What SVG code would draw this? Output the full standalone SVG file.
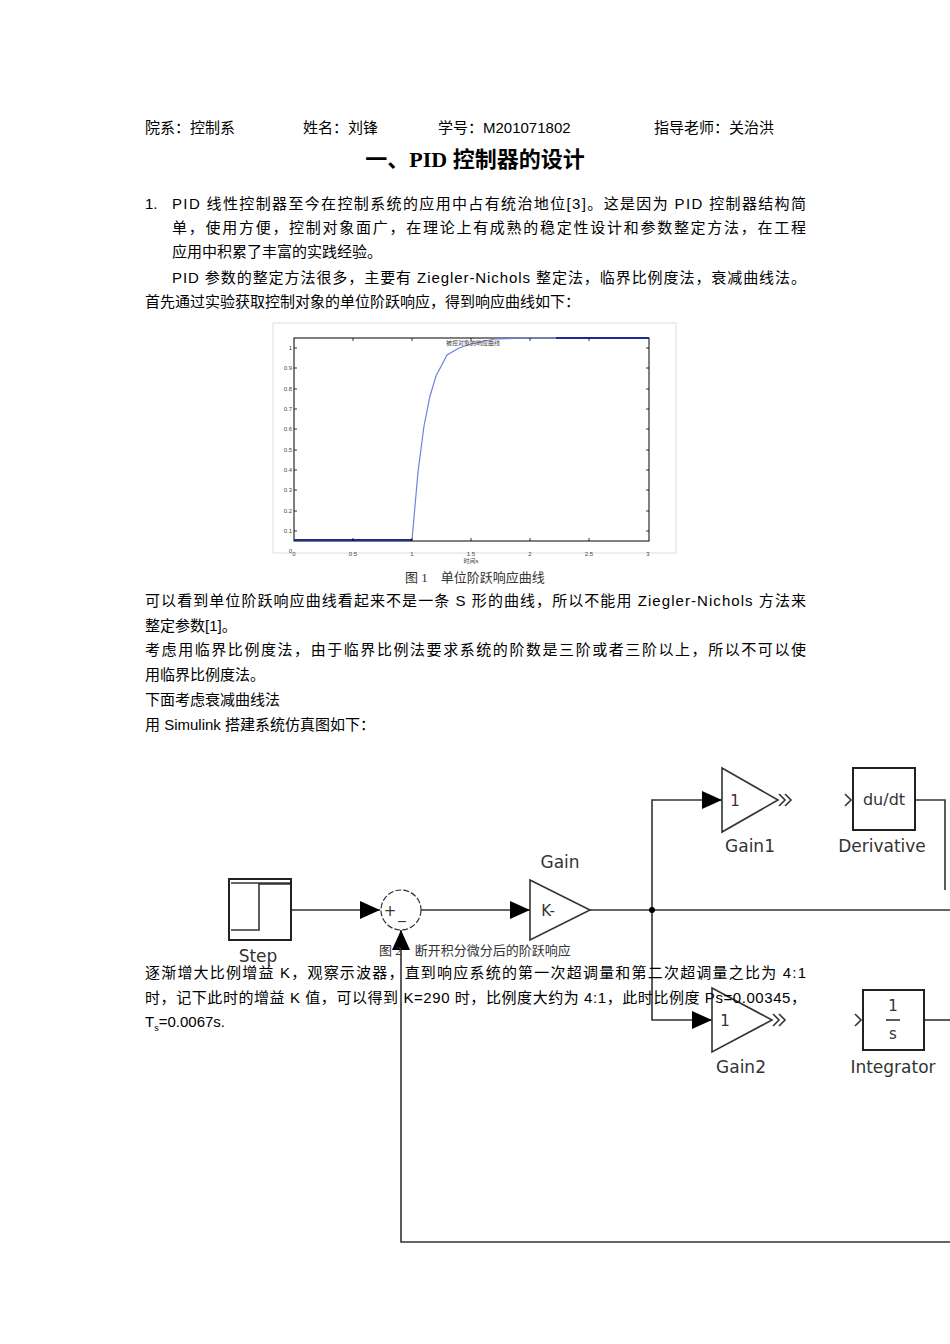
<svg xmlns="http://www.w3.org/2000/svg" width="950" height="1344" viewBox="0 0 950 1344">
<defs>
<style>
.t{font-family:"Liberation Sans","Noto Sans CJK SC",sans-serif;font-size:15px;fill:#000}
.s{font-family:"Liberation Sans","Noto Sans CJK SC",sans-serif;font-size:6px;fill:#444}
.c{font-family:"Liberation Serif","Noto Sans CJK SC",serif;font-size:13px;fill:#333}
.b{font-family:"DejaVu Sans",sans-serif;font-size:17px;fill:#333}
.w{stroke:#222;stroke-width:2;fill:none}
.l{stroke:#333;stroke-width:1.6;fill:none}
</style>
<marker id="a" markerWidth="10" markerHeight="10" refX="9" refY="5" orient="auto" markerUnits="userSpaceOnUse"><path d="M0,0L10,5L0,10z" fill="#000"/></marker>
<marker id="ar" markerWidth="20" markerHeight="18" refX="20" refY="9" orient="auto" markerUnits="userSpaceOnUse"><path d="M0,0L20,9L0,18z" fill="#000"/></marker>
</defs>
<rect width="950" height="1344" fill="#fff"/>
<g id="header">
<text class="t" x="145" y="133">院系：控制系</text>
<text class="t" x="303" y="133">姓名：刘锋</text>
<text class="t" x="438" y="133">学号：M201071802</text>
<text class="t" x="654" y="133">指导老师：关治洪</text>
<text x="475" y="167" text-anchor="middle" style="font-family:'Liberation Serif','Noto Sans CJK SC',serif;font-size:22px;font-weight:bold">一、PID 控制器的设计</text>
</g>
<g id="para1">
<text class="t" x="145" y="209">1.</text>
<text class="t" x="172" y="209" textLength="634">PID 线性控制器至今在控制系统的应用中占有统治地位[3]。这是因为 PID 控制器结构简</text>
<text class="t" x="172" y="233" textLength="634">单，使用方便，控制对象面广，在理论上有成熟的稳定性设计和参数整定方法，在工程</text>
<text class="t" x="172" y="257">应用中积累了丰富的实践经验。</text>
<text class="t" x="172" y="283" textLength="634">PID 参数的整定方法很多，主要有 Ziegler-Nichols 整定法，临界比例度法，衰减曲线法。</text>
<text class="t" x="145" y="307">首先通过实验获取控制对象的单位阶跃响应，得到响应曲线如下：</text>
</g>
<g id="plot">
<rect x="273" y="323" width="403" height="230" fill="#fff" stroke="#ddd"/>
<rect x="294" y="338" width="355" height="203" fill="#fff" stroke="#000" stroke-width="1"/>
<path d="M294,540H412L418,472L424,426L430,396L436,376L447,355L459,348L471,344L495,339L530,338H649" fill="none" stroke="#7080e0" stroke-width="1.2"/>
<path d="M294,540H412M556,338H649" fill="none" stroke="#1a2a90" stroke-width="2"/>
<g stroke="#000" stroke-width="0.8">
<path d="M353,541v-3M412,541v-3M471,541v-3M530,541v-3M589,541v-3M353,338v3M412,338v3M471,338v3M530,338v3M589,338v3"/>
<path d="M294,531h3M294,511h3M294,490h3M294,470h3M294,450h3M294,429h3M294,409h3M294,389h3M294,368h3M294,348h3M649,531h-3M649,511h-3M649,490h-3M649,470h-3M649,450h-3M649,429h-3M649,409h-3M649,389h-3M649,368h-3M649,348h-3"/>
</g>
<g class="s" text-anchor="end">
<text x="292" y="533">0.1</text><text x="292" y="513">0.2</text><text x="292" y="492">0.3</text><text x="292" y="472">0.4</text><text x="292" y="452">0.5</text><text x="292" y="431">0.6</text><text x="292" y="411">0.7</text><text x="292" y="391">0.8</text><text x="292" y="370">0.9</text><text x="292" y="350">1</text><text x="292" y="553">0</text>
</g>
<g class="s" text-anchor="middle">
<text x="294" y="556">0</text><text x="353" y="556">0.5</text><text x="412" y="556">1</text><text x="471" y="556">1.5</text><text x="530" y="556">2</text><text x="589" y="556">2.5</text><text x="648" y="556">3</text>
<text x="471" y="563">时间s</text>
<text x="473" y="345">被控对象的响应曲线</text>
</g>
</g>
<text class="c" x="475" y="582" text-anchor="middle">图 1　单位阶跃响应曲线</text>
<g id="para2">
<text class="t" x="145" y="606" textLength="661">可以看到单位阶跃响应曲线看起来不是一条 S 形的曲线，所以不能用 Ziegler-Nichols 方法来</text>
<text class="t" x="145" y="631">整定参数[1]。</text>
<text class="t" x="145" y="655" textLength="661">考虑用临界比例度法，由于临界比例法要求系统的阶数是三阶或者三阶以上，所以不可以使</text>
<text class="t" x="145" y="680">用临界比例度法。</text>
<text class="t" x="145" y="705">下面考虑衰减曲线法</text>
<text class="t" x="145" y="730">用 Simulink 搭建系统仿真图如下：</text>
</g>
<g id="connectors" class="l">
<path d="M291,910H380" marker-end="url(#ar)"/>
<path d="M421,910H530" marker-end="url(#ar)"/>
<path d="M590,910H950"/>
<path d="M652,910V800H722" marker-end="url(#ar)"/>
<path d="M652,910V1020H712" marker-end="url(#ar)"/>
<path d="M915,800H945V890"/>
<path d="M924,1020H950"/>
<path d="M950,1242H401V930" marker-end="url(#ar)"/>
</g>
<circle cx="652" cy="910" r="3" fill="#000"/>
<g id="step">
<rect x="229" y="879" width="62" height="61" class="w"/>
<path d="M231,883H290M231,930H259V884H290" class="l"/>
<text class="b" x="258" y="962" text-anchor="middle">Step</text>
</g>
<g id="sum">
<ellipse cx="401" cy="910" rx="20" ry="20" fill="#fff" stroke="#333" stroke-width="1.2" stroke-dasharray="6,2"/>
<text class="b" x="390" y="916" text-anchor="middle" style="font-size:15px">+</text>
<text class="b" x="402" y="918" text-anchor="middle" style="font-size:15px">_</text>
</g>
<g id="gain">
<path d="M530,880L590,910L530,940Z" class="l" fill="#fff"/>
<text class="b" x="548" y="916" text-anchor="middle" style="font-size:15px">K-</text>
<text class="b" x="560" y="868" text-anchor="middle">Gain</text>
</g>
<g id="gain1">
<path d="M722,768L778,800L722,832Z" class="l" fill="#fff"/>
<path d="M779,794l6,6l-6,6M785,794l6,6l-6,6" class="l" stroke-width="1"/>
<text class="b" x="735" y="806" text-anchor="middle" style="font-size:15px">1</text>
<text class="b" x="750" y="852" text-anchor="middle">Gain1</text>
</g>
<g id="derivative">
<rect x="853" y="768" width="62" height="62" class="w"/>
<path d="M845,794l6,6l-6,6" class="l" stroke-width="1"/>
<text class="b" x="884" y="805" text-anchor="middle" style="font-size:16px">du/dt</text>
<text class="b" x="882" y="852" text-anchor="middle">Derivative</text>
</g>
<g id="gain2">
<path d="M712,988L772,1020L712,1052Z" class="l" fill="#fff"/>
<path d="M773,1014l6,6l-6,6M779,1014l6,6l-6,6" class="l" stroke-width="1"/>
<text class="b" x="725" y="1026" text-anchor="middle" style="font-size:15px">1</text>
<text class="b" x="741" y="1073" text-anchor="middle">Gain2</text>
</g>
<g id="integrator">
<rect x="863" y="990" width="61" height="60" class="w"/>
<path d="M855,1014l6,6l-6,6" class="l" stroke-width="1"/>
<text class="b" x="893" y="1011" text-anchor="middle" style="font-size:15px">1</text>
<path d="M886,1020H900" class="l"/>
<text class="b" x="893" y="1039" text-anchor="middle" style="font-size:15px">s</text>
<text class="b" x="893" y="1073" text-anchor="middle">Integrator</text>
</g>
<text class="c" x="475" y="955" text-anchor="middle">图 2　断开积分微分后的阶跃响应</text>
<g id="para3">
<text class="t" x="145" y="978" textLength="661">逐渐增大比例增益 K，观察示波器，直到响应系统的第一次超调量和第二次超调量之比为 4:1</text>
<text class="t" x="145" y="1003" textLength="661">时，记下此时的增益 K 值，可以得到 K=290 时，比例度大约为 4:1，此时比例度 Ps=0.00345，</text>
<text class="t" x="145" y="1027">T<tspan font-size="9" dy="4">s</tspan><tspan dy="-4">=0.0067s.</tspan></text>
</g>
</svg>
